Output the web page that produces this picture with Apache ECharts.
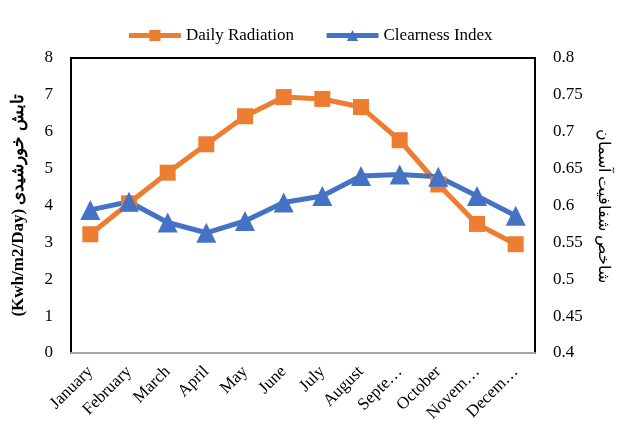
<!DOCTYPE html>
<html><head><meta charset="utf-8">
<script src="https://cdn.jsdelivr.net/npm/echarts@6/dist/echarts.min.js"></script>
<style>html,body{margin:0;padding:0;background:#fff}#c{width:619px;height:430px}</style>
</head><body><div id="c"></div>
<script>
const categories = ["January","February","March","April","May","June","July","August","Septe…","October","Novem…","Decem…"];
const dailyRadiation = [3.22, 4.06, 4.89, 5.66, 6.42, 6.94, 6.89, 6.67, 5.77, 4.57, 3.50, 2.95];
const clearnessIndex = [0.594, 0.605, 0.577, 0.563, 0.579, 0.604, 0.613, 0.640, 0.642, 0.639, 0.613, 0.586];
const leftTicks = {min: 0, max: 8, interval: 1};
const rightTicks = {min: 0.4, max: 0.8, interval: 0.05};

const serif = "'Liberation Serif','Times New Roman',serif";
const chart = echarts.init(document.getElementById('c'));
chart.setOption({
  animation: false,
  textStyle: {fontFamily: serif},
  legend: {
    top: 22, left: 'center', itemGap: 30, itemWidth: 52, itemHeight: 14,
    lineStyle: {width: 5},
    textStyle: {fontFamily: serif, fontSize: 17, color: '#000'},
    data: ['Daily Radiation', 'Clearness Index']
  },
  grid: {left: 71, right: 81, top: 58, bottom: 77, show: true, borderColor: '#000', borderWidth: 2},
  xAxis: {
    type: 'category', data: categories, boundaryGap: true,
    axisLine: {lineStyle: {color: '#a6a6a6', width: 2}},
    axisTick: {show: false},
    axisLabel: {rotate: 45, fontFamily: serif, fontSize: 17, color: '#000', margin: 16, interval: 0}
  },
  yAxis: [{
    type: 'value', min: leftTicks.min, max: leftTicks.max, interval: leftTicks.interval,
    position: 'left',
    axisLine: {show: false}, axisTick: {show: false}, splitLine: {show: false},
    axisLabel: {fontFamily: serif, fontSize: 17, color: '#000', margin: 18},
    name: '(Kwh/m2/Day) تابش خورشیدی', nameLocation: 'middle', nameRotate: 90, nameGap: 44,
    nameTextStyle: {fontFamily: serif, fontSize: 17, fontWeight: 'bold', color: '#000'}
  }, {
    type: 'value', min: rightTicks.min, max: rightTicks.max, interval: rightTicks.interval,
    position: 'right',
    axisLine: {show: false}, axisTick: {show: false}, splitLine: {show: false},
    axisLabel: {fontFamily: serif, fontSize: 17, color: '#000', margin: 18,
      formatter: v => String(Math.round(v * 100) / 100)},
    name: 'شاخص شفافیت آسمان', nameLocation: 'middle', nameRotate: -90, nameGap: 60,
    nameTextStyle: {fontFamily: serif, fontSize: 16, color: '#000'}
  }],
  series: [{
    name: 'Daily Radiation', type: 'line', yAxisIndex: 0, data: dailyRadiation,
    symbol: 'rect', symbolSize: 16,
    lineStyle: {color: '#ED7D31', width: 5}, itemStyle: {color: '#ED7D31'}
  }, {
    name: 'Clearness Index', type: 'line', yAxisIndex: 1, data: clearnessIndex,
    symbol: 'triangle', symbolSize: 20,
    lineStyle: {color: '#4472C4', width: 5}, itemStyle: {color: '#4472C4'}
  }]
});
</script></body></html>
